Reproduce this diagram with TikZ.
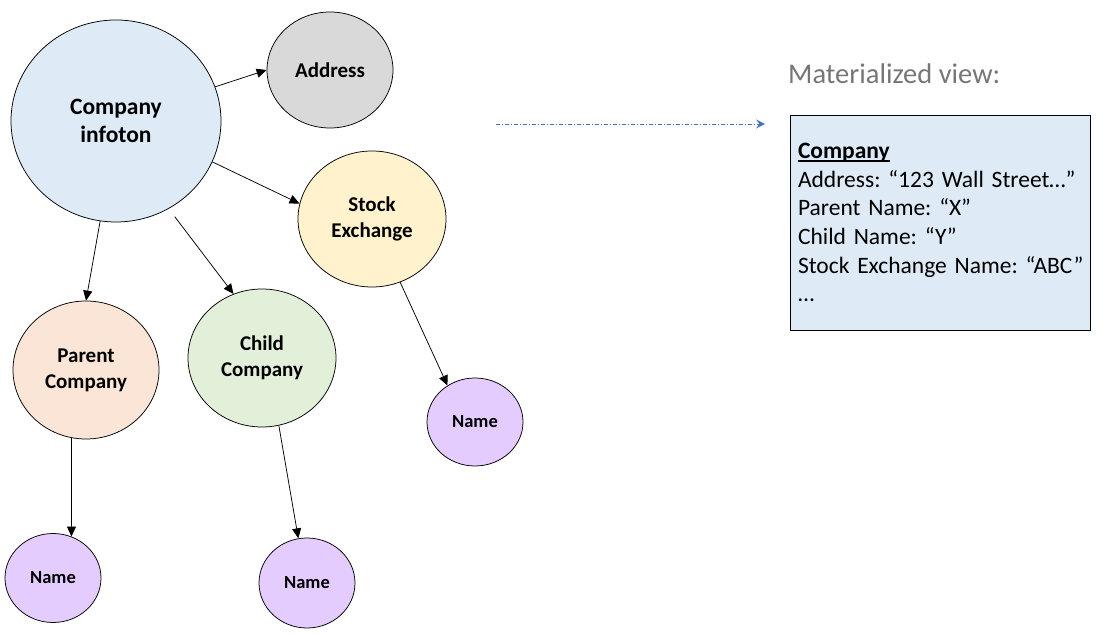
\documentclass[tikz,border=0pt]{standalone}
\usepackage{fontspec}
\setmainfont{Carlito}
\usetikzlibrary{arrows.meta,shapes.geometric,positioning}
\newcommand\uword[1]{\setbox0\hbox{#1}\rlap{\rule[-3pt]{\wd0}{1.3pt}}\box0}
\frenchspacing

\begin{document}
\begin{tikzpicture}[x=1pt,y=1pt, every node/.style={inner sep=0pt},
  ent/.style={ellipse, draw=black, line width=0.75pt, align=center, font=\bfseries\fontsize{21}{26}\selectfont},
  leaf/.style={ent, fill=namef, minimum width=96pt, minimum height=89pt, font=\bfseries\fontsize{18.5}{22}\selectfont},
  arr/.style={draw=black, line width=0.75pt, -{Triangle[length=10pt,width=9pt]}},
  flow/.style={draw=flowc, line width=0.75pt, dash pattern=on 4pt off 2pt on 1pt off 2pt, -{Stealth[length=9pt,width=9pt,inset=3.5pt]}}]
\definecolor{compf}{HTML}{DEEBF7}\definecolor{addrf}{HTML}{D9D9D9}
\definecolor{stockf}{HTML}{FFF2CC}\definecolor{parf}{HTML}{FBE5D6}
\definecolor{childf}{HTML}{E2F0D9}\definecolor{namef}{HTML}{E5CCFF}
\definecolor{flowc}{HTML}{4472C4}\definecolor{titlec}{HTML}{767676}
\useasboundingbox (0,0) rectangle (1111,634);
% entity circles
\node[ent, fill=compf, minimum width=210pt, minimum height=202pt, font=\bfseries\fontsize{23.5}{28}\selectfont] (comp) at (116,513) {Company\\infoton};
\node[ent, fill=addrf, minimum width=126pt, minimum height=116pt] (addr) at (330,564) {Address};
\node[ent, fill=stockf, minimum width=148pt, minimum height=136pt] (stock) at (372,415) {Stock\\Exchange};
\node[ent, fill=parf, minimum width=146pt, minimum height=138pt] (parent) at (86,264) {Parent\\Company};
\node[ent, fill=childf, minimum width=148pt, minimum height=138pt] (child) at (262,276) {Child\\Company};
\node[leaf] (pname) at (53,56) {Name};
\node[leaf, minimum height=90pt] (cname) at (307,51) {Name};
\node[leaf, minimum height=88pt] (sname) at (475,212) {Name};
% links
\draw[arr] (comp.19) -- (addr.west);
\draw[arr] (comp.-23) -- (stock.168);
\draw[arr] (comp.-99) -- (parent.north);
\draw[arr, shorten <=10pt] (comp.-59) -- (child.114);
\draw[arr] (parent.-102) -- (pname.66);
\draw[arr] (child.-76) -- (cname.101);
\draw[arr] (stock.-66) -- (sname.127);
% materialized view
\coordinate (flowa) at (496,510);
\coordinate (flowb) at (765,510);
\draw[flow] (flowa) -- (flowb);
\node[anchor=base west, font=\fontsize{28.5}{33}\selectfont, text=titlec] (mvtitle) at (788,550) {Materialized view:};
\node[draw=black, fill=compf, line width=0.75pt, minimum width=300pt, minimum height=215pt, text width=284pt, align=left, font=\fontsize{23.5}{28.6}\selectfont] (mview) at (940,411.5) {\textbf{\uword{Company}}\\Address: “123 Wall Street…”\\Parent Name: “X”\\Child Name: “Y”\\\mbox{Stock Exchange Name: “ABC”}\\…};
\end{tikzpicture}
\end{document}
